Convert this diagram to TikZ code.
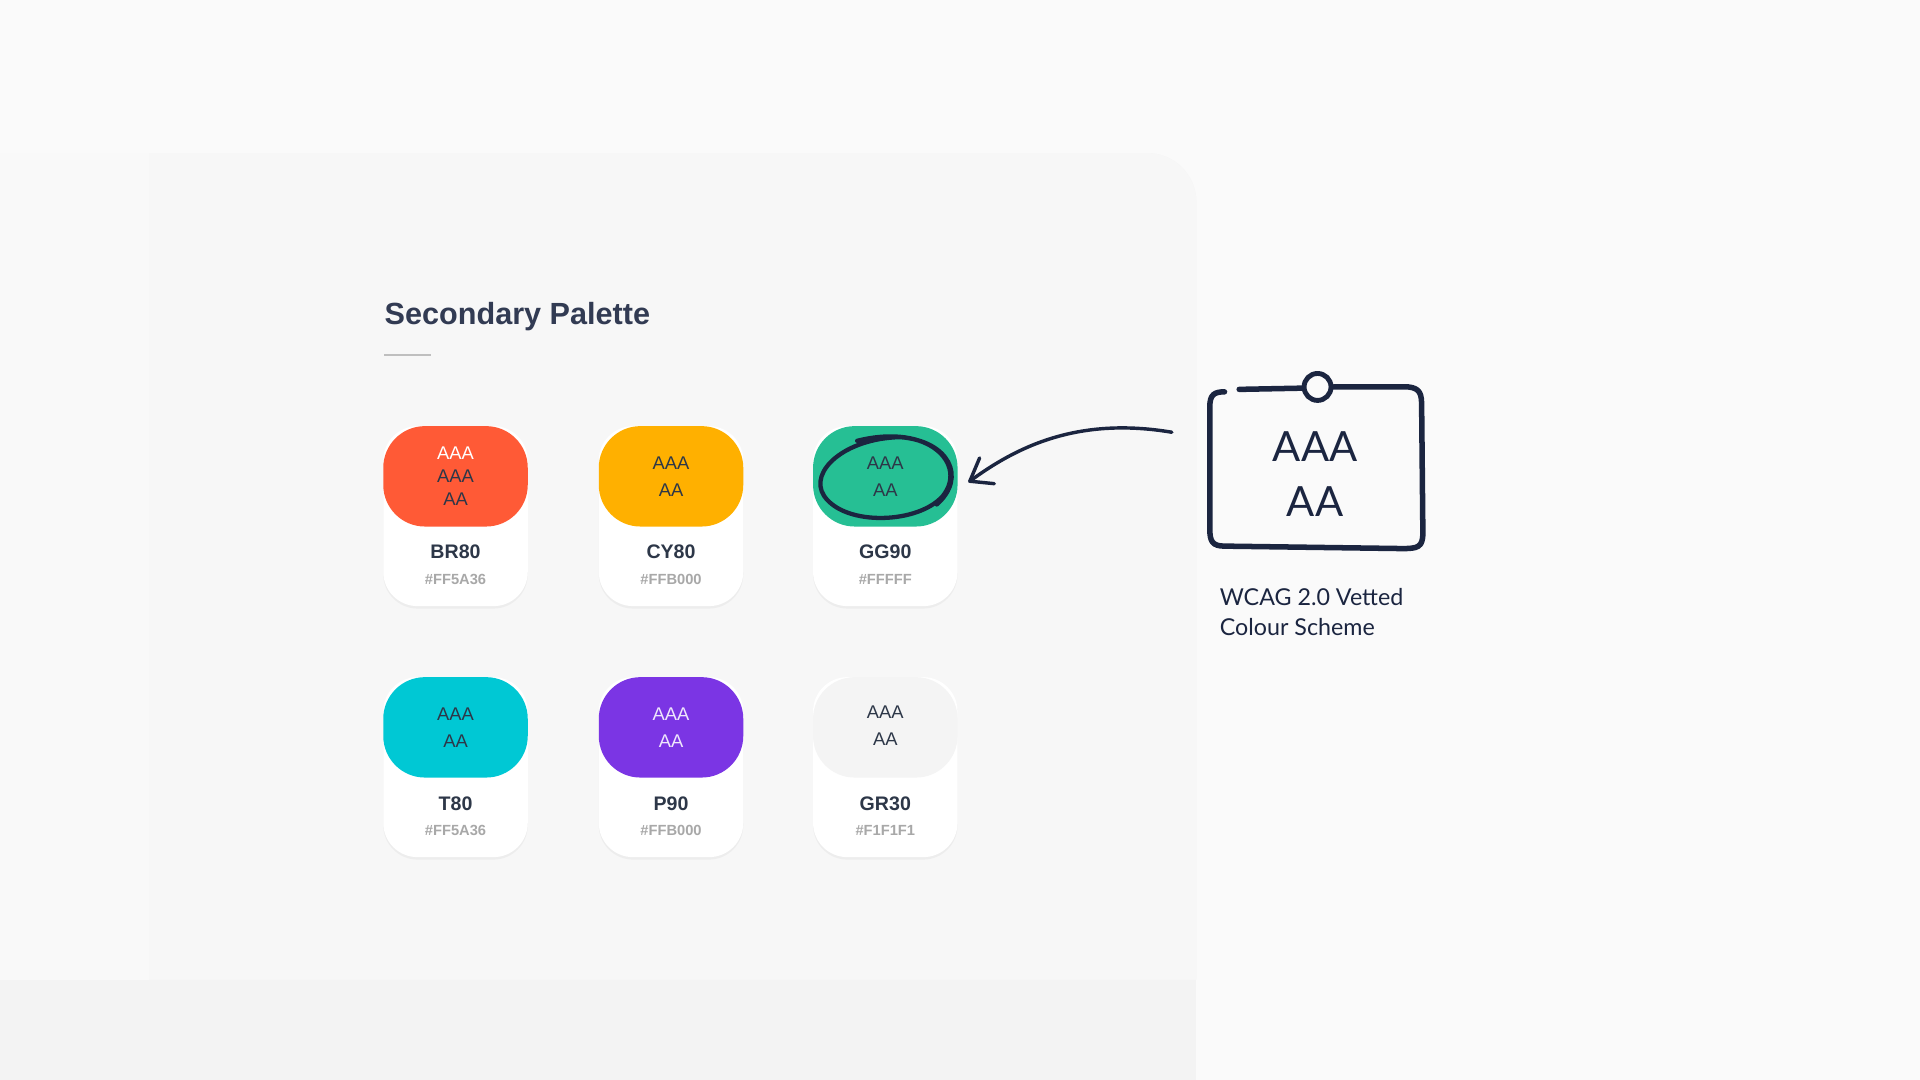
\documentclass[tikz,border=0pt]{standalone}
\usepackage{fontspec}
\setmainfont{Liberation Sans}
\newfontfamily\notefont{Lato}
\usetikzlibrary{positioning,calc,shadows}
\definecolor{ink}{HTML}{1B2540}
\definecolor{pagebg}{HTML}{FAFAFA}
\definecolor{panelbg}{HTML}{F7F7F7}
\definecolor{footbg}{HTML}{F3F3F3}
\definecolor{txtdark}{HTML}{2D3748}
\definecolor{hexgray}{HTML}{A8A8A8}
\definecolor{cBR}{HTML}{FF5A36}
\definecolor{cCY}{HTML}{FFB000}
\definecolor{cGG}{HTML}{26BF94}
\definecolor{cT}{HTML}{00C8D4}
\definecolor{cP}{HTML}{7B35E4}
\definecolor{cGR}{HTML}{F4F4F4}
\begin{document}
\begin{tikzpicture}[x=1pt,y=-1pt,
    card/.style={fill=white, rounded corners=28pt, drop shadow={shadow xshift=0pt, shadow yshift=-2pt, opacity=0.08}},
    swatch/.style={rounded corners=34pt},
    swtext/.style={font=\fontsize{15}{19}\selectfont, align=center, text=txtdark},
    cardname/.style={font=\fontsize{16}{18}\selectfont\bfseries, text=txtdark},
    cardhex/.style={font=\fontsize{12}{14}\selectfont\bfseries, text=hexgray},
    sketch/.style={ink, line width=4.5pt, line cap=round, line join=round}
]
    % background and panel
    \fill[pagebg] (0,0) rectangle (1568,882);
    \useasboundingbox (0,0) rectangle (1568,882);
    \fill[panelbg, drop shadow={shadow xshift=0pt, shadow yshift=0pt, opacity=0.04}]
        (0,125) [rounded corners=40pt] -- (977,125) [sharp corners] -- (977,800) -- (0,800) -- cycle;
    \fill[pagebg!60!panelbg] (0,125) rectangle (122,800);
    \fill[footbg] (0,800) rectangle (977,882);

    % title
    \node[anchor=base west, inner sep=0, font=\fontsize{25}{30}\selectfont\bfseries, text=ink!90] (title) at (314,265) {Secondary Palette};
    \draw[black!25, line width=1pt] (314,290) -- (352,290);

    % cards
    \foreach \cx/\cy/\col/\lbl/\hx in {372/348/cBR/BR80/\#FF5A36, 548/348/cCY/CY80/\#FFB000, 723/348/cGG/GG90/\#FFFFF,
                                      372/553/cT/T80/\#FF5A36, 548/553/cP/P90/\#FFB000, 723/553/cGR/GR30/\#F1F1F1} {
        \fill[card] (\cx-59,\cy) rectangle (\cx+59,\cy+147);
        \fill[\col, swatch] (\cx-59,\cy) rectangle (\cx+59,\cy+82);
        \node[cardname] at (\cx,\cy+103) {\lbl};
        \node[cardhex] at (\cx,\cy+125) {\hx};
    }

    % swatch texts
    \node[swtext] (brtxt) at (372,389) {\textcolor{white}{AAA}\\AAA\\AA};
    \node[swtext] (cytxt) at (548,389) {AAA\\[3pt]AA};
    \node[swtext] (ggtxt) at (723,389) {AAA\\[3pt]AA};
    \node[swtext] (ttxt) at (372,594) {AAA\\[3pt]AA};
    \node[swtext, text=white!88!cP] (ptxt) at (548,594) {AAA\\[3pt]AA};
    \node[swtext] (grtxt) at (723,593) {AAA\\[3pt]AA};

    % scribble around GG90
    \draw[ink, line width=3.5pt, line cap=round]
        (700,360) .. controls (760,345) and (790,380) .. (770,405)
        .. controls (750,428) and (690,430) .. (673,405)
        .. controls (660,385) and (690,358) .. (735,357)
        .. controls (775,360) and (790,390) .. (765,412);
    \coordinate (ggedge) at (792,393);

    % icon
    \draw[sketch] (1012,318) -- (1063,317);
    \draw[sketch] (1089,316) -- (1150,316) .. controls (1160,317) and (1161,322) .. (1161,332)
        -- (1162,435) .. controls (1162,447) and (1158,448) .. (1145,448)
        -- (1000,446) .. controls (990,446) and (988,442) .. (988,432)
        -- (988,332) .. controls (988,322) and (992,320) .. (1000,320);
    \draw[ink, line width=4pt] (1076,316) circle[radius=11];
    \node[font=\notefont\fontsize{34}{45}\selectfont, align=center, text=ink] (icontxt) at (1074,387) {AAA\\AA};
    \coordinate (iconleft) at (957,353);

    % caption
    \node[anchor=north west, inner sep=0, align=left, font=\notefont\fontsize{19}{25}\selectfont, text=ink] (caption) at (996,480) {WCAG 2.0 Vetted\\Colour Scheme};

    % arrow
    \draw[ink, line width=2.8pt, line cap=round] (iconleft) .. controls (880,340) and (830,365) .. (ggedge);
    \draw[ink, line width=2.8pt, line cap=round, line join=round] (800,374) -- (ggedge) -- (812,395);
\end{tikzpicture}
\end{document}
